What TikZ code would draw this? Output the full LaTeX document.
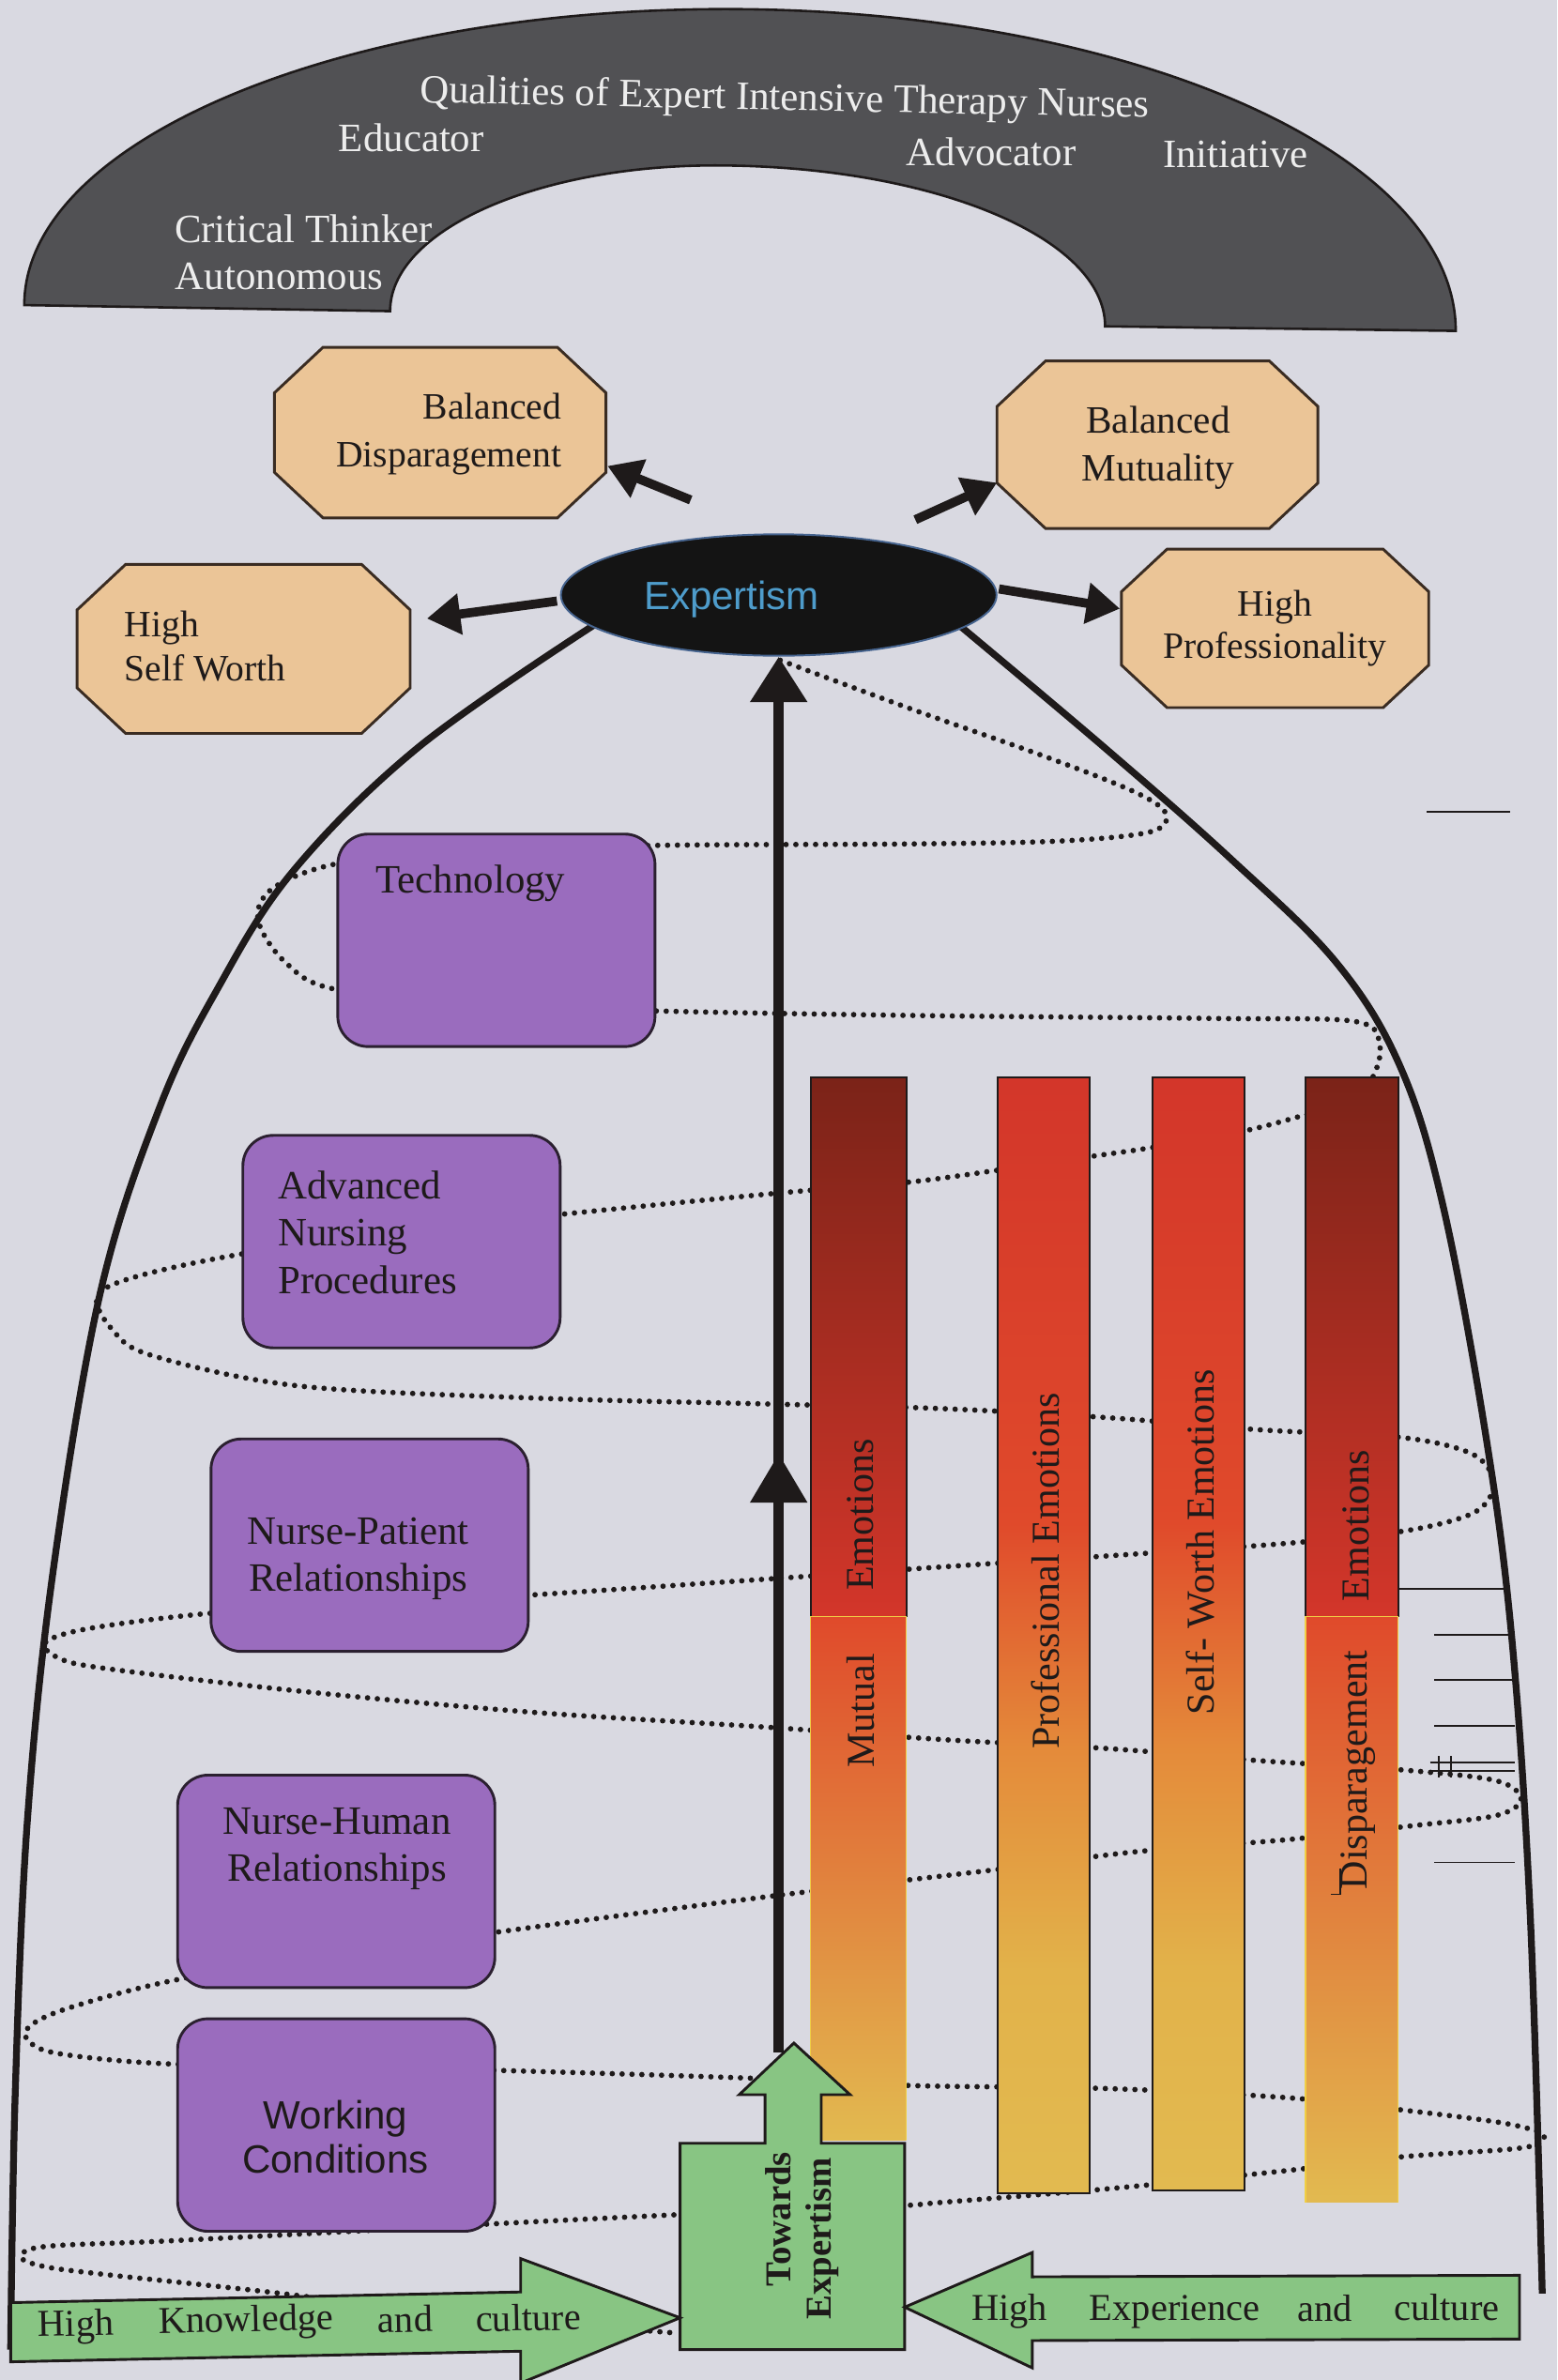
\documentclass[tikz,border=0pt]{standalone}
\usepackage{fontspec}
\setmainfont{Liberation Serif}
\newfontfamily\sansf{Liberation Sans}
\usetikzlibrary{arrows.meta,calc,shapes.geometric}

\definecolor{paper}{HTML}{D9D9E1}
\definecolor{archgray}{HTML}{515154}
\definecolor{archtext}{HTML}{EDEDED}
\definecolor{tanfill}{HTML}{EBC597}
\definecolor{octedge}{HTML}{3A2C22}
\definecolor{lilac}{HTML}{9A6CBE}
\definecolor{boxedge}{HTML}{2B2030}
\definecolor{leaf}{HTML}{88C583}
\definecolor{expblue}{HTML}{4E9CCB}
\definecolor{halo}{HTML}{46648F}
\definecolor{darkred}{HTML}{7B2318}
\definecolor{midred}{HTML}{A82B1F}
\definecolor{redA}{HTML}{D3362A}
\definecolor{redB}{HTML}{E04A2B}
\definecolor{orng}{HTML}{E48A3A}
\definecolor{yel}{HTML}{E2BA50}
\definecolor{yelB}{HTML}{E2B24A}
\definecolor{yelline}{HTML}{F0CF45}
\definecolor{ink}{HTML}{1E1A1A}

% emotion bars: red at the top fading through orange to yellow
\pgfdeclareverticalshading{emoshade}{100bp}{color(0bp)=(yel); color(25bp)=(yel); color(35bp)=(yelB); color(45bp)=(orng); color(55bp)=(redB); color(75bp)=(redA); color(100bp)=(redA)}

\newcommand\sz[2]{\fontsize{#1}{#2}\selectfont}
% octagon drawn round an empty sizing node: #1 node, #2 horizontal chamfer, #3 vertical chamfer
\newcommand\octoshape[3]{%
  \filldraw[octline] ($(#1.north west)+(#2,0)$) -- ($(#1.north east)+(-#2,0)$)
    -- ($(#1.north east)+(0,#3)$) -- ($(#1.south east)+(0,-#3)$)
    -- ($(#1.south east)+(-#2,0)$) -- ($(#1.south west)+(#2,0)$)
    -- ($(#1.south west)+(0,-#3)$) -- ($(#1.north west)+(0,#3)$) -- cycle;}

\begin{document}
\begin{tikzpicture}[x=1pt,y=-1pt,
  spiral/.style={line width=3.6pt, dash pattern=on 0pt off 6.5pt, line cap=round, ink},
  bell/.style={line width=4.5pt, ink},
  archlbl/.style={text=archtext, font=\sz{26.5}{30}, inner sep=0pt},
  sizer/.style={inner sep=0pt, draw=none},
  octline/.style={fill=tanfill, draw=octedge, line width=1.8pt},
  octtxt/.style={text=ink, font=\sz{24.5}{31}, inner sep=0pt},
  pbox/.style={fill=lilac, draw=boxedge, line width=1.8pt, rounded corners=20pt, minimum width=209pt, minimum height=140pt, inner sep=0pt},
  ptxt/.style={text=ink, font=\sz{26.5}{31}, inner sep=0pt},
  bartxt/.style={text=ink, font=\sz{26}{30}, rotate=90, inner sep=0pt},
  barline/.style={draw=ink, line width=1.2pt},
  fatarrow/.style={line width=6pt, ink, -{Triangle[length=22pt,width=26pt]}},
  greenshape/.style={fill=leaf, draw=ink, line width=1.8pt, line join=miter},
  greentxt/.style={text=ink, font=\sz{25}{30}, inner sep=0pt},
  tick/.style={ink, line width=1.2pt}
]
\useasboundingbox (0,0) rectangle (1026,1568);
\fill[paper] (0,0) rectangle (1026,1568);

% ---------- arch of qualities ----------
\draw[fill=archgray, draw=ink, line width=1.6pt]
  (16,201) .. controls (16,93) and (223,6) .. (478,6)
  .. controls (744,6) and (959,101) .. (959,218) -- (728,215)
  .. controls (728,156) and (613,109) .. (471,109)
  .. controls (353,109) and (257,152) .. (257,205) -- cycle;
\node[archlbl, rotate=-1.2] (qual) at (517,66) {Qualities of Expert Intensive Therapy Nurses};
\node[archlbl] (educ) at (271,91) {Educator};
\node[archlbl] (advo) at (653,100) {Advocator};
\node[archlbl] (init) at (814,102) {Initiative};
\node[archlbl] (crit) at (200,151) {Critical Thinker};
\node[archlbl] (auto) at (184,182) {Autonomous};

% ---------- dotted spiral ----------
\draw[spiral] plot[smooth, tension=0.55] coordinates {
 (514,435) (600,467) (690,499) (748,522) (768,536) (758,548) (700,554) (600,556) (430,557)
 (300,561) (222,569) (180,585) (170,606) (188,634) (222,652) (330,662) (432,666) (600,669)
 (800,671) (893,673) (909,689) (903,712) (885,727) (858,735) (820,745) (759,756) (718,762)
 (657,771) (597,779) (513,786) (370,800) (260,812) (160,826) (90,841) (64,854) (74,876)
 (100,893) (196,913) (350,921) (507,925) (620,928) (730,934) (830,942) (923,947) (970,958)
 (984,977) (972,996) (929,1008) (857,1016) (760,1023) (625,1032) (510,1040) (347,1051)
 (240,1057) (137,1063) (58,1073) (30,1082) (38,1092) (68,1099) (196,1114) (350,1128)
 (507,1138) (620,1146) (730,1152) (830,1160) (923,1166) (985,1173) (1002,1185) (986,1196)
 (929,1203) (848,1212) (748,1220) (654,1232) (510,1249) (327,1273) (220,1290) (118,1304)
 (42,1324) (17,1338) (27,1350) (62,1356) (118,1360) (220,1362) (327,1364) (491,1369)
 (600,1374) (730,1376) (848,1382) (923,1390) (992,1399) (1017,1407) (1003,1415) (923,1421)
 (848,1430) (730,1442) (620,1451) (596,1453) (520,1456) (448,1459) (327,1465) (118,1476)
 (30,1480) (14,1487) (28,1493) (65,1498) (177,1510) (300,1525) (445,1537)};

% ---------- bell outline ----------
\draw[bell] plot[smooth, tension=0.6] coordinates {(391,412) (276,492) (193,574) (143,652)
  (105,730) (66,852) (35,1035) (18,1200) (10,1380) (7,1548)};
\draw[bell] plot[smooth, tension=0.6] coordinates {(632,412) (727,492) (811,566) (881,635)
  (923,704) (951,796) (979,947) (996,1080) (1008,1260) (1016,1511)};

% ---------- expertism ----------
\node[ellipse, fill=black!92, draw=halo, line width=1.2pt, minimum width=287pt, minimum height=80pt, inner sep=0pt] (exp) at (513,392) {};
\node[text=expblue, font=\sansf\sz{26}{30}, inner sep=0pt] (expt) at (482,395) {Expertism};

% central growth arrow
\coordinate (base) at (513,1352);
\draw[line width=7pt, ink, -{Triangle[length=30pt,width=36pt]}] (base) -- (exp.south);
\fill[ink] (513,958) -- (532,990) -- (494,990) -- cycle;

% ---------- emotion bars ----------
\shade[top color=darkred, middle color=midred, bottom color=redA] (534,710) rectangle (597,1065);
\draw[barline] (534,710) rectangle (597,1065);
\shade[top color=redB, middle color=orng, bottom color=yel] (534,1065) rectangle (597,1410);
\draw[yelline, line width=1pt] (534,1065) -- (534,1410) (597,1065) -- (597,1410) (534,1065) -- (597,1065);

\shade[shading=emoshade] (657,710) rectangle (718,1445);
\draw[barline] (657,710) rectangle (718,1445);
\shade[shading=emoshade] (759,710) rectangle (820,1443);
\draw[barline] (759,710) rectangle (820,1443);

\shade[top color=darkred, middle color=midred, bottom color=redA] (860,710) rectangle (921,1065);
\draw[barline] (860,710) rectangle (921,1065);
\shade[top color=redB, middle color=orng, bottom color=yel] (860,1065) rectangle (921,1451);
\draw[yelline, line width=1pt] (860,1065) -- (860,1451) (921,1065) -- (921,1451) (860,1065) -- (921,1065);

\node[bartxt] (b1a) at (567,998) {Emotions};
\node[bartxt] (b1b) at (567,1127) {Mutual};
\node[bartxt] (b2) at (689,1035) {Professional Emotions};
\node[bartxt] (b3) at (791,1016) {Self- Worth Emotions};
\node[bartxt] (b4a) at (893,1005) {Emotions};
\node[bartxt] (b4b) at (895,1166) {Disparagement};
\draw[ink, line width=1.1pt] (883,1231) -- (883,1248) -- (877,1248);

% ---------- influence boxes ----------
\node[pbox] (tech) at (327,619.5) {};
\node[ptxt] (techt) at (310,582) {Technology};
\node[pbox] (adv) at (264.5,818) {};
\node[ptxt, align=left, anchor=west] (advt) at (183,812) {Advanced\\Nursing\\Procedures};
\node[pbox] (np) at (243.5,1018) {};
\node[ptxt, align=center] (npt) at (236,1027) {Nurse-Patient\\Relationships};
\node[pbox] (nh) at (221.5,1239.5) {};
\node[ptxt, align=center] (nht) at (222,1218) {Nurse-Human\\Relationships};
\node[pbox] (wc) at (221.5,1400) {};
\node[ptxt, align=center, font=\sansf\sz{26}{29}] (wct) at (221,1408) {Working\\Conditions};

% ---------- outcome octagons ----------
\node[sizer, minimum width=218pt, minimum height=112pt] (bd) at (290,285) {};
\octoshape{bd}{32}{30}
\node[octtxt, align=right, anchor=east] (bdt) at (370,286) {Balanced\\Disparagement};
\node[sizer, minimum width=211pt, minimum height=110pt] (bm) at (762.5,293) {};
\octoshape{bm}{32}{30}
\node[octtxt, align=center, font=\sz{25.5}{31}] (bmt) at (763,295) {Balanced\\Mutuality};
\node[sizer, minimum width=219pt, minimum height=111pt] (hsw) at (160.5,427.5) {};
\octoshape{hsw}{32}{30}
\node[octtxt, align=left, anchor=west, font=\sz{24.5}{29}] (hswt) at (82,426) {High\\Self Worth};
\node[sizer, minimum width=202pt, minimum height=104pt] (hp) at (840,414) {};
\octoshape{hp}{30}{28}
\node[octtxt, align=center, font=\sz{24.5}{28}] (hpt) at (840,414) {High\\Professionality};

\draw[fatarrow] ($(exp.north)+(-58,-22)$) -- ($(bd.east)+(1,22)$);
\draw[fatarrow] ($(exp.north)+(90,-9)$) -- ($(bm.west)+(0,25)$);
\draw[fatarrow] ($(exp.west)+(-2,4)$) -- ($(hsw.east)+(11,-20)$);
\draw[fatarrow] ($(exp.east)+(1,-4)$) -- ($(hp.west)+(-1,-13)$);

% ---------- foundation arrows ----------
\filldraw[greenshape] (448,1412) -- (504,1412) -- (504,1380) -- (487,1380) -- (523,1346)
  -- (560,1380) -- (541,1380) -- (541,1412) -- (596,1412) -- (596,1548) -- (448,1548) -- cycle;
\node[font=\bfseries\sz{24}{28}, text=ink, rotate=90, inner sep=0pt] (tw1) at (513,1462) {Towards};
\node[font=\bfseries\sz{24}{28}, text=ink, rotate=90, inner sep=0pt] (tw2) at (542,1475) {Expertism};

\filldraw[greenshape] (7,1517) -- (343,1510) -- (343,1488) -- (448,1527) -- (343,1570)
  -- (343,1549) -- (7,1556) -- cycle;
\node[greentxt, rotate=1.2] (k1) at (50,1533) {High};
\node[greentxt, rotate=1.2] (k2) at (162,1530) {Knowledge};
\node[greentxt, rotate=1.2] (k3) at (267,1528) {and};
\node[greentxt, rotate=1.2] (k4) at (348,1527) {culture};

\filldraw[greenshape] (596,1520) -- (680,1484) -- (680,1500) -- (1001,1499) -- (1001,1541)
  -- (680,1542) -- (680,1560) -- cycle;
\node[greentxt] (e1) at (665,1523) {High};
\node[greentxt] (e2) at (774,1523) {Experience};
\node[greentxt] (e3) at (873,1521) {and};
\node[greentxt] (e4) at (953,1520) {culture};

% ---------- rule marks at the right margin ----------
\draw[tick] (940,535) -- (995,535);
\draw[tick] (921,1047) -- (995,1047);
\draw[tick] (945,1077) -- (996,1077);
\draw[tick] (945,1107) -- (997,1107);
\draw[tick] (945,1137) -- (998,1137);
\draw[tick] (942,1161) -- (998,1161);
\draw[tick] (942,1167) -- (998,1167);
\draw[tick] (948,1157) -- (948,1171);
\draw[tick] (956,1157) -- (956,1171);
\draw[tick] (945,1227) -- (998,1227);
\end{tikzpicture}
\end{document}
